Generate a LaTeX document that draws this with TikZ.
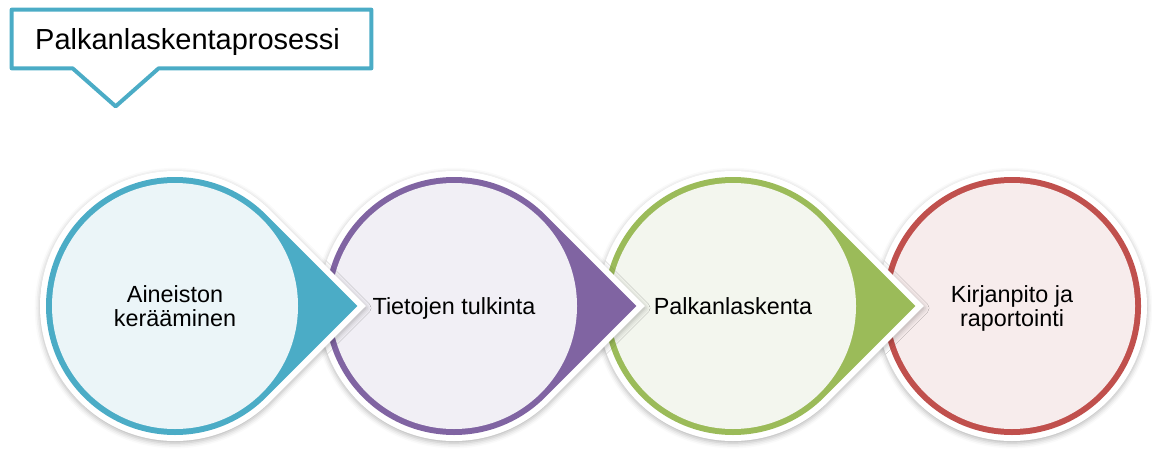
\documentclass[tikz,border=0pt]{standalone}
\usepackage{fontspec}
\setmainfont{Liberation Sans}
\usepackage{tikz}
\usetikzlibrary{calc}
\usetikzlibrary{positioning}
\usetikzlibrary{shadows.blur}
\definecolor{AquaLine}{HTML}{4BACC6}
\definecolor{AquaFill}{HTML}{EBF5F8}
\definecolor{PurpleLine}{HTML}{8064A2}
\definecolor{PurpleFill}{HTML}{F1EFF5}
\definecolor{GreenLine}{HTML}{9BBB59}
\definecolor{GreenFill}{HTML}{F3F6EE}
\definecolor{RedLine}{HTML}{C0504D}
\definecolor{RedFill}{HTML}{F7ECEC}

% drop outline: centre #1, radius #2, point at radius*sqrt(2)
\newcommand{\droppath}[2]{([shift={(45:#2)}]#1) -- ++(-45:#2) -- ++(-135:#2)
    arc[start angle=-45, end angle=-315, radius=#2] -- cycle}

\begin{document}
\begin{tikzpicture}[
 halo/.style = {fill=white, blur shadow={shadow xshift=0pt, shadow yshift=-1.2pt,
                shadow blur radius=3pt, shadow opacity=30}},
 stepbox/.style = {circle, minimum size=4.92cm, inner sep=0pt, align=center,
                   text depth=0pt, font=\fontsize{13.3}{13.8}\selectfont},
 titlebox/.style = {minimum width=7.18cm, minimum height=1.16cm},
                        ]
    \useasboundingbox (0,0) rectangle (23.04,9);

    % heading with its pointer
    \node [titlebox] (title) at (3.83,8.22) {};
    \node [text depth=0pt, font=\fontsize{16.5}{18}\selectfont] (titleText)
          at ([xshift=-0.08cm]title) {Palkanlaskentaprosessi};
    \draw [AquaLine, line width=0.08cm, line join=round]
       (title.north west) -- (title.north east) -- (title.south east)
       -- ($(title.south west)+(2.94,0)$) -- ($(title.south west)+(2.08,-0.76)$)
       -- ($(title.south west)+(1.22,0)$) -- (title.south west) -- cycle;

    \coordinate (c1) at (3.50,2.88);
    \coordinate [right=5.58cm of c1] (c2);
    \coordinate [right=5.58cm of c2] (c3);
    \coordinate [right=5.58cm of c3] (c4);

    % last step first, so each point lies over the next circle
    \fill [halo] (c4) circle (2.70);
    \fill [RedLine] (c4) circle (2.58);
    \node [stepbox, fill=RedFill] (kirjanpito) at (c4) {Kirjanpito ja\\raportointi};

    \fill [halo] \droppath{c3}{2.70};
    \fill [GreenLine] \droppath{c3}{2.58};
    \node [stepbox, fill=GreenFill] (palkka) at (c3) {Palkanlaskenta};

    \fill [halo] \droppath{c2}{2.70};
    \fill [PurpleLine] \droppath{c2}{2.58};
    \node [stepbox, fill=PurpleFill] (tulkinta) at (c2) {Tietojen tulkinta};

    \fill [halo] \droppath{c1}{2.70};
    \fill [AquaLine] \droppath{c1}{2.58};
    \node [stepbox, fill=AquaFill] (aineisto) at (c1) {Aineiston\\kerääminen};

    \end{tikzpicture}
\end{document}
